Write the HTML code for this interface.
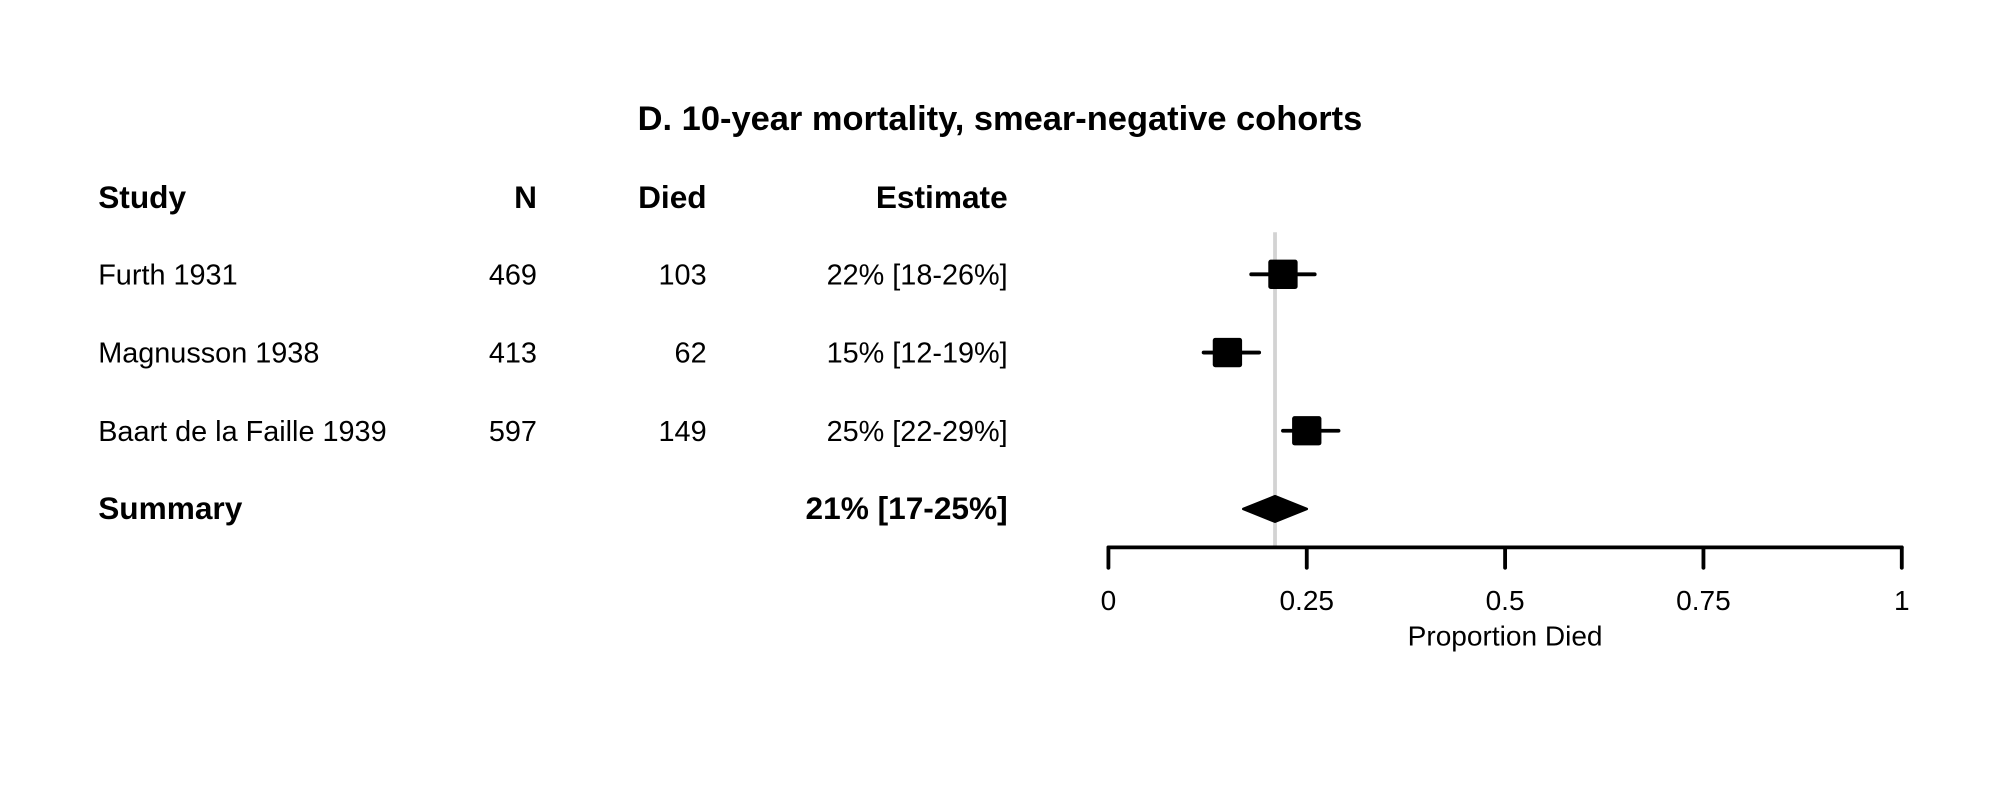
<!DOCTYPE html>
<html><head><meta charset="utf-8"><style>
html,body{margin:0;padding:0;background:#fff;}
svg{display:block;font-family:"Liberation Sans",Arial,sans-serif;}
</style></head><body>
<svg id="chart" width="2000" height="800" viewBox="0 0 1568 627" preserveAspectRatio="none" xmlns="http://www.w3.org/2000/svg">
<rect width="1568" height="627" fill="#fff"/>
<text x="784" y="102" text-anchor="middle" font-size="27" font-weight="bold">D. 10-year mortality, smear-negative cohorts</text>
<g id="headers" font-size="24.8" font-weight="bold">
<text x="77" y="163">Study</text>
<text x="421" y="163" text-anchor="end">N</text>
<text x="554" y="163" text-anchor="end">Died</text>
<text x="790" y="163" text-anchor="end">Estimate</text>
</g>
<g id="rows"></g>
<g id="plot"></g>
</svg>
<script>
const studies = ["Furth 1931", "Magnusson 1938", "Baart de la Faille 1939"];
const nValues = [469, 413, 597];
const diedValues = [103, 62, 149];
const estimates = [0.22, 0.15, 0.25];
const lowerCI = [0.18, 0.12, 0.22];
const upperCI = [0.26, 0.19, 0.29];
const summaryEst = 0.21;
const summaryLow = 0.17;
const summaryHigh = 0.25;
const xTicks = [0, 0.25, 0.5, 0.75, 1];
const xTickLabels = ["0", "0.25", "0.5", "0.75", "1"];

const NS = "http://www.w3.org/2000/svg";
const X0 = 869, X1 = 1491;
function xScale(v){ return X0 + (X1 - X0) * v; }
function rowY(i){ return 215 + i * 61.3; }
function mk(tag, attrs, parent){
  const e = document.createElementNS(NS, tag);
  for (const k in attrs) e.setAttribute(k, attrs[k]);
  parent.appendChild(e); return e;
}
function pct(v){ return Math.round(v*100) + "%"; }
const rows = document.getElementById('rows');
const plot = document.getElementById('plot');

const ref = mk('line', {x1: xScale(summaryEst), x2: xScale(summaryEst), y1: 182, y2: 429, stroke: '#d3d3d3', 'stroke-width': 3}, plot);



studies.forEach((s, i) => {
  const y = rowY(i);
  const t1 = mk('text', {x: 77, y: y + 8, 'font-size': 22.6}, rows); t1.textContent = s;
  
  
  const t2 = mk('text', {x: 421, y: y + 8, 'font-size': 22.6, 'text-anchor': 'end'}, rows); t2.textContent = nValues[i];
  
  
  const t3 = mk('text', {x: 554, y: y + 8, 'font-size': 22.6, 'text-anchor': 'end'}, rows); t3.textContent = diedValues[i];
  
  
  const t4 = mk('text', {x: 790, y: y + 8, 'font-size': 22.6, 'text-anchor': 'end'}, rows);
  t4.textContent = pct(estimates[i]) + " [" + Math.round(lowerCI[i]*100) + "-" + pct(upperCI[i]) + "]";
  
  
  const ci = mk('line', {x1: xScale(lowerCI[i]), x2: xScale(upperCI[i]), y1: y, y2: y, stroke: '#000', 'stroke-width': 3, 'stroke-linecap': 'round'}, plot);
  
  
  const sz = 23;
  const sq = mk('rect', {x: xScale(estimates[i]) - sz/2, y: y - sz/2, width: sz, height: sz, rx: 2, fill: '#000'}, plot);
  
  
});

const sy = rowY(3);
const st = mk('text', {x: 77, y: sy + 8, 'font-size': 24.8, 'font-weight': 'bold'}, rows); st.textContent = "Summary";


const se = mk('text', {x: 790, y: sy + 8, 'font-size': 24.8, 'font-weight': 'bold', 'text-anchor': 'end'}, rows);
se.textContent = pct(summaryEst) + " [" + Math.round(summaryLow*100) + "-" + pct(summaryHigh) + "]";


const dm = mk('polygon', {points: [xScale(summaryLow)+","+sy, xScale(summaryEst)+","+(sy-10), xScale(summaryHigh)+","+sy, xScale(summaryEst)+","+(sy+10)].join(" "), fill: '#000', stroke: '#000', 'stroke-width': 2, 'stroke-linejoin': 'round'}, plot);



const ax = mk('line', {x1: xScale(0), x2: xScale(1), y1: 429, y2: 429, stroke: '#000', 'stroke-width': 3, 'stroke-linecap': 'round'}, plot);


xTicks.forEach((v, i) => {
  const tk = mk('line', {x1: xScale(v), x2: xScale(v), y1: 429, y2: 445, stroke: '#000', 'stroke-width': 3, 'stroke-linecap': 'round'}, plot);
  
  
  const tl = mk('text', {x: xScale(v), y: 478, 'font-size': 22, 'text-anchor': 'middle'}, plot);
  tl.textContent = xTickLabels[i];
  
  
});
const at = mk('text', {x: xScale(0.5), y: 506, 'font-size': 22, 'text-anchor': 'middle'}, plot);
at.textContent = "Proportion Died";


</script>
</body></html>
